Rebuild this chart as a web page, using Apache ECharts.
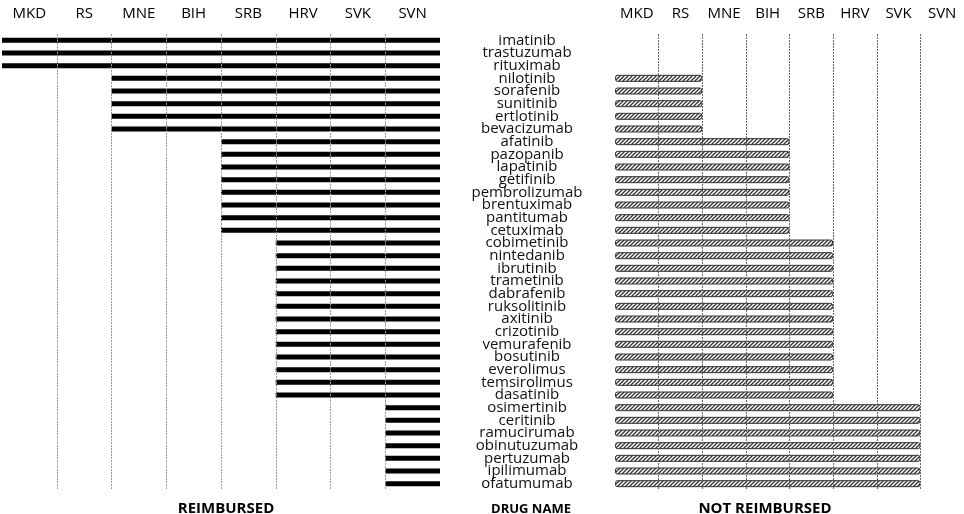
<!DOCTYPE html>
<html lang="en">
<head>
  <meta charset="UTF-8">
  <title>Reimbursement of oncology drugs</title>
  <script src="https://cdn.jsdelivr.net/npm/echarts@6/dist/echarts.min.js"></script>
  <style>
    html, body { margin: 0; padding: 0; background: #fff; }
  </style>
</head>
<body>
  <div id="main" style="width: 964px;height:514px;"></div>
  <script>
    const countries = ['MKD', 'RS', 'MNE', 'BIH', 'SRB', 'HRV', 'SVK', 'SVN'];
    const drugs = [
      'imatinib', 'trastuzumab', 'rituximab',
      'nilotinib', 'sorafenib', 'sunitinib', 'ertlotinib', 'bevacizumab',
      'afatinib', 'pazopanib', 'lapatinib', 'getifinib', 'pembrolizumab', 'brentuximab', 'pantitumab', 'cetuximab',
      'cobimetinib', 'nintedanib', 'ibrutinib', 'trametinib', 'dabrafenib', 'ruksolitinib', 'axitinib',
      'crizotinib', 'vemurafenib', 'bosutinib', 'everolimus', 'temsirolimus', 'dasatinib',
      'osimertinib', 'ceritinib', 'ramucirumab', 'obinutuzumab', 'pertuzumab', 'ipilimumab', 'ofatumumab'
    ];
    // number of countries where the drug is reimbursed / not reimbursed
    const reimbursed = [
      8, 8, 8,
      6, 6, 6, 6, 6,
      4, 4, 4, 4, 4, 4, 4, 4,
      3, 3, 3, 3, 3, 3, 3, 3, 3, 3, 3, 3, 3,
      1, 1, 1, 1, 1, 1, 1
    ];
    const notReimbursed = [
      0, 0, 0,
      2, 2, 2, 2, 2,
      4, 4, 4, 4, 4, 4, 4, 4,
      5, 5, 5, 5, 5, 5, 5, 5, 5, 5, 5, 5, 5,
      7, 7, 7, 7, 7, 7, 7
    ];
    const dividers = [1, 2, 3, 4, 5, 6, 7];

    const font = 'Open Sans';

    // diagonal hatch for the "not reimbursed" bars
    const hatch = document.createElement('canvas');
    hatch.width = 4;
    hatch.height = 4;
    const ctx = hatch.getContext('2d');
    ctx.fillStyle = '#fff';
    ctx.fillRect(0, 0, 4, 4);
    ctx.strokeStyle = '#333';
    ctx.lineWidth = 1.3;
    ctx.beginPath();
    ctx.moveTo(-1, 5); ctx.lineTo(5, -1);
    ctx.moveTo(3, 5); ctx.lineTo(5, 3);
    ctx.moveTo(-1, 1); ctx.lineTo(1, -1);
    ctx.stroke();

    function dividerLines(color) {
      return {
        silent: true,
        symbol: 'none',
        label: { show: false },
        lineStyle: { type: [2, 1], color: color, width: 1 },
        data: dividers.map(v => ({ xAxis: v }))
      };
    }

    const topLabels = { margin: 13, fontFamily: font, fontSize: 15, color: '#000', interval: 0 };

    var myChart = echarts.init(document.getElementById('main'));

    const option = {
      animation: false,
      title: [
        { text: 'REIMBURSED', left: 221, top: 496, textAlign: 'center',
          textStyle: { fontFamily: font, fontSize: 15, fontWeight: 'bold', color: '#000' } },
        { text: 'DRUG NAME', left: 526, top: 498, textAlign: 'center',
          textStyle: { fontFamily: font, fontSize: 13, fontWeight: 'bold', color: '#000' } },
        { text: 'NOT REIMBURSED', left: 760, top: 496, textAlign: 'center',
          textStyle: { fontFamily: font, fontSize: 15, fontWeight: 'bold', color: '#000' } }
      ],
      grid: [
        { left: 2, right: 524, top: 34, bottom: 24 },
        { left: 615, right: 0, top: 34, bottom: 24 }
      ],
      xAxis: [
        { gridIndex: 0, type: 'value', min: 0, max: 8, inverse: true, show: false },
        { gridIndex: 1, type: 'value', min: 0, max: 8, show: false },
        {
          gridIndex: 0, type: 'category', position: 'top', data: countries,
          axisLine: { show: false }, axisTick: { show: false }, splitLine: { show: false },
          axisLabel: topLabels
        },
        {
          gridIndex: 1, type: 'category', position: 'top', data: countries,
          axisLine: { show: false }, axisTick: { show: false }, splitLine: { show: false },
          axisLabel: topLabels
        }
      ],
      yAxis: [
        {
          gridIndex: 0, type: 'category', data: drugs, inverse: true, position: 'right',
          axisLine: { show: false }, axisTick: { show: false },
          axisLabel: { margin: 87, align: 'center', fontFamily: font, fontSize: 15, color: '#111', interval: 0, lineHeight: 13 }
        },
        {
          gridIndex: 1, type: 'category', data: drugs, inverse: true, show: false
        }
      ],
      series: [
        {
          name: 'Reimbursed', type: 'bar', xAxisIndex: 0, yAxisIndex: 0,
          data: reimbursed, barWidth: 5,
          itemStyle: { color: '#000' },
          markLine: dividerLines('#999'),
          z: 3
        },
        {
          name: 'Not reimbursed', type: 'bar', xAxisIndex: 1, yAxisIndex: 1,
          data: notReimbursed.map(v => (v === 0 ? '-' : v)), barWidth: 7,
          itemStyle: {
            color: { image: hatch, repeat: 'repeat' },
            borderColor: '#333', borderWidth: 1, borderRadius: 2
          },
          markLine: dividerLines('#666'),
          z: 3
        }
      ]
    };

    myChart.setOption(option);
  </script>
</body>
</html>
